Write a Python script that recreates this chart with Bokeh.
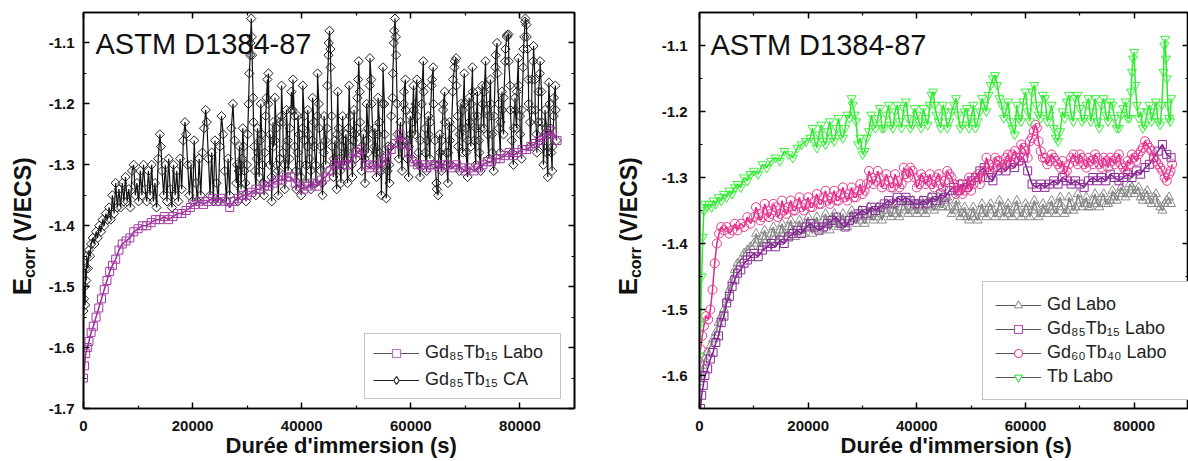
import math
from bokeh.plotting import figure
from bokeh.models import (Range1d, LinearAxis, FixedTicker, PrintfTickFormatter, CustomJSTickFormatter,
                          Label, Legend, LegendItem)
from bokeh.layouts import row
from bokeh.embed import file_html
from bokeh.resources import INLINE
from bokeh.core.properties import value

FONT = "Liberation Sans"

# ---------------- data (time in s, Ecorr in V/ECS) ----------------
x_ticks = [0, 20000, 40000, 60000, 80000]
x_minor = [10000, 30000, 50000, 70000, 90000]
y_ticks_left = [-1.7, -1.6, -1.5, -1.4, -1.3, -1.2, -1.1]
y_minor_left = [-1.65, -1.55, -1.45, -1.35, -1.25, -1.15, -1.05]
y_ticks_right = [-1.6, -1.5, -1.4, -1.3, -1.2, -1.1]
y_minor_right = [-1.65, -1.55, -1.45, -1.35, -1.25, -1.15, -1.05]

# left panel: Gd85Tb15 Labo
left_labo = [(0,-1.65),(200,-1.63),(400,-1.61),(700,-1.60),(1000,-1.59),(1400,-1.575),(1800,-1.565),(2300,-1.55),
    (2800,-1.535),(3300,-1.52),(3800,-1.505),(4300,-1.49),(4800,-1.475),(5300,-1.465),(5900,-1.455),(6500,-1.44),
    (7100,-1.43),(7800,-1.425),(8500,-1.42),(9200,-1.41),(10000,-1.405),(10800,-1.40),(11600,-1.40),(12400,-1.395),
    (13200,-1.39),(14000,-1.39),(14800,-1.385),(15600,-1.39),(16400,-1.385),(17200,-1.38),(18000,-1.38),(18800,-1.375),
    (19600,-1.37),(20400,-1.365),(21200,-1.36),(22000,-1.365),(22800,-1.36),(23600,-1.355),(24400,-1.36),(25200,-1.355),
    (26000,-1.36),(26800,-1.37),(27600,-1.36),(28400,-1.355),(29200,-1.35),(30000,-1.35),(30800,-1.345),(31600,-1.34),
    (32400,-1.34),(33200,-1.335),(34000,-1.335),(34800,-1.33),(35600,-1.325),(36400,-1.325),(37200,-1.32),(38000,-1.32),
    (38800,-1.33),(39600,-1.335),(40400,-1.34),(41200,-1.335),(42000,-1.33),(42800,-1.335),(43600,-1.325),(44400,-1.32),
    (45200,-1.31),(46000,-1.30),(46800,-1.295),(47600,-1.30),(48400,-1.30),(49200,-1.29),(50000,-1.28),(50800,-1.275),
    (51600,-1.30),(52400,-1.305),(53200,-1.30),(54000,-1.305),(54800,-1.295),(55600,-1.29),(56400,-1.275),(57200,-1.265),
    (58000,-1.25),(58800,-1.265),(59600,-1.28),(60400,-1.295),(61200,-1.30),(62000,-1.30),(62800,-1.305),(63600,-1.30),
    (64400,-1.30),(65200,-1.305),(66000,-1.30),(66800,-1.30),(67600,-1.305),(68400,-1.30),(69200,-1.305),(70000,-1.31),
    (70800,-1.305),(71600,-1.31),(72400,-1.305),(73200,-1.30),(74000,-1.295),(74800,-1.295),(75600,-1.29),(76400,-1.29),
    (77200,-1.285),(78000,-1.28),(78800,-1.285),(79600,-1.28),(80400,-1.275),(81200,-1.275),(82000,-1.27),(82800,-1.265),
    (83600,-1.26),(84400,-1.255),(85200,-1.25),(86000,-1.245),(86800,-1.26)]

# left panel: Gd85Tb15 CA (main readings)
left_ca_a = [(0,-1.54),(100,-1.52),(200,-1.50),(300,-1.53),(400,-1.47),(500,-1.49),(600,-1.45),(800,-1.47),(1000,-1.44),
    (1200,-1.45),(1400,-1.43),(1700,-1.42),(2000,-1.43),(2300,-1.41),(2600,-1.42),(2900,-1.40),(3200,-1.41),(3500,-1.39),
    (3800,-1.40),(4100,-1.38),(4400,-1.39),(4700,-1.37),(5000,-1.39),(5300,-1.35),(5600,-1.38),(5900,-1.33),(6200,-1.37),
    (6500,-1.34),(6800,-1.37),(7100,-1.33),(7400,-1.36),(7700,-1.32),(8000,-1.36),(8300,-1.34),(8600,-1.37),(8900,-1.31),
    (9200,-1.30),(9500,-1.35),(9800,-1.33),(10100,-1.36),(10400,-1.31),(10700,-1.35),(11000,-1.30),(11300,-1.34),
    (11600,-1.36),(11900,-1.31),(12200,-1.35),(12500,-1.30),(12800,-1.36),(13100,-1.33),(13400,-1.37),(13700,-1.29),
    (14000,-1.25),(14200,-1.27),(14400,-1.31),(14700,-1.35),(15000,-1.30),(15300,-1.36),(15600,-1.29),(15900,-1.34),
    (16200,-1.37),(16500,-1.30),(16800,-1.35),(17100,-1.31),(17400,-1.36),(17700,-1.29),(18000,-1.34),(18300,-1.26),
    (18600,-1.23),(18800,-1.25),(19100,-1.30),(19400,-1.35),(19700,-1.30),(20000,-1.36),(20300,-1.26),(20600,-1.33),
    (20900,-1.36),(21200,-1.29),(21500,-1.35),(21800,-1.28),(22100,-1.24),(22400,-1.21),(22600,-1.23),(22900,-1.29),
    (23200,-1.35),(23500,-1.28),(23800,-1.36),(24100,-1.26),(24400,-1.33),(24700,-1.36),(25000,-1.27),(25300,-1.22),
    (25600,-1.25),(25900,-1.31),(26200,-1.36),(26500,-1.29),(26800,-1.35),(27100,-1.24),(27400,-1.20),(27700,-1.26),
    (28000,-1.33),(28300,-1.36),(28600,-1.27),(28900,-1.34),(29200,-1.24),(29500,-1.31),(29800,-1.36),(30100,-1.25),
    (30400,-1.15),(30600,-1.10),(30750,-1.06),(30900,-1.12),(31100,-1.19),(31300,-1.27),(31600,-1.35),(31900,-1.24),
    (32200,-1.32),(32500,-1.20),(32800,-1.30),(33100,-1.35),(33400,-1.22),(33700,-1.16),(33900,-1.15),(34200,-1.25),
    (34500,-1.36),(34800,-1.27),(35100,-1.19),(35400,-1.30),(35700,-1.35),(36000,-1.23),(36300,-1.17),(36600,-1.28),
    (36900,-1.34),(37200,-1.21),(37500,-1.31),(37800,-1.24),(38100,-1.18),(38400,-1.16),(38700,-1.27),(39000,-1.34),
    (39300,-1.22),(39600,-1.30),(39900,-1.35),(40200,-1.17),(40500,-1.26),(40800,-1.33),(41100,-1.21),(41400,-1.29),
    (41700,-1.34),(42000,-1.19),(42300,-1.27),(42600,-1.33),(42900,-1.15),(43200,-1.24),(43500,-1.31),(43800,-1.35),
    (44100,-1.22),(44400,-1.30),(44700,-1.17),(44900,-1.12),(45100,-1.08),(45300,-1.14),(45500,-1.22),(45800,-1.32),
    (46100,-1.26),(46400,-1.34),(46600,-1.18),(46900,-1.29),(47200,-1.33),(47500,-1.22),(47800,-1.30),(48100,-1.25),
    (48400,-1.33),(48700,-1.17),(49000,-1.27),(49300,-1.32),(49600,-1.21),(49900,-1.29),(50200,-1.19),(50450,-1.13),
    (50700,-1.23),(51000,-1.31),(51300,-1.25),(51600,-1.33),(51900,-1.20),(52200,-1.28),(52500,-1.125),(52800,-1.20),
    (53100,-1.30),(53400,-1.24),(53700,-1.32),(54000,-1.19),(54300,-1.28),(54600,-1.35),(54900,-1.14),(55200,-1.25),
    (55500,-1.355),(55800,-1.27),(56100,-1.33),(56400,-1.22),(56700,-1.15),(56900,-1.10),(57100,-1.06),(57300,-1.12),
    (57500,-1.20),(57800,-1.29),(58100,-1.23),(58400,-1.31),(58700,-1.20),(59000,-1.16),(59300,-1.26),(59600,-1.32),
    (59900,-1.22),(60200,-1.29),(60500,-1.17),(60800,-1.25),(61100,-1.16),(61400,-1.28),(61700,-1.32),(62000,-1.20),
    (62300,-1.13),(62600,-1.24),(62900,-1.31),(63200,-1.22),(63500,-1.29),(63800,-1.17),(64100,-1.14),(64400,-1.26),
    (64700,-1.33),(65000,-1.35),(65300,-1.25),(65600,-1.31),(65900,-1.21),(66200,-1.18),(66500,-1.28),(66800,-1.33),
    (67100,-1.23),(67400,-1.30),(67700,-1.18),(68000,-1.14),(68300,-1.125),(68600,-1.22),(68900,-1.31),(69200,-1.20),
    (69500,-1.28),(69800,-1.15),(70100,-1.24),(70400,-1.32),(70700,-1.19),(71000,-1.27),(71300,-1.14),(71600,-1.22),
    (71900,-1.30),(72200,-1.18),(72500,-1.26),(72800,-1.31),(73100,-1.17),(73400,-1.24),(73700,-1.13),(74000,-1.21),
    (74300,-1.29),(74600,-1.16),(74900,-1.25),(75200,-1.31),(75500,-1.14),(75800,-1.10),(76100,-1.20),(76400,-1.28),
    (76700,-1.18),(77000,-1.25),(77300,-1.13),(77600,-1.09),(77900,-1.086),(78200,-1.17),(78500,-1.26),(78800,-1.30),
    (79100,-1.19),(79400,-1.24),(79700,-1.125),(80000,-1.22),(80300,-1.29),(80600,-1.14),(80800,-1.09),(81000,-1.06),
    (81200,-1.07),(81400,-1.11),(81600,-1.20),(81900,-1.27),(82200,-1.16),(82500,-1.105),(82800,-1.21),(83100,-1.28),
    (83400,-1.18),(83700,-1.13),(84000,-1.23),(84300,-1.30),(84600,-1.21),(84900,-1.28),(85100,-1.32),(85300,-1.165),
    (85600,-1.24),(85900,-1.31),(86200,-1.22),(86500,-1.17),(86700,-1.26)]

# left panel: Gd85Tb15 CA (in-between readings of the dense oscillating part)
left_ca_b = [(28150,-1.30),(28450,-1.31),(28750,-1.30),(29050,-1.29),(29350,-1.27),(29650,-1.33),(29950,-1.30),
    (30250,-1.20),(30550,-1.12),(30850,-1.09),(31150,-1.23),(31450,-1.31),(31750,-1.29),(32050,-1.28),(32350,-1.26),
    (32650,-1.25),(32950,-1.33),(33250,-1.28),(33550,-1.19),(33850,-1.20),(34150,-1.30),(34450,-1.32),(34750,-1.23),
    (35050,-1.26),(35350,-1.24),(35650,-1.31),(35950,-1.29),(36250,-1.22),(36550,-1.23),(36850,-1.30),(37150,-1.27),
    (37450,-1.26),(37750,-1.29),(38050,-1.21),(38350,-1.21),(38650,-1.22),(38950,-1.31),(39250,-1.28),(39550,-1.25),
    (39850,-1.32),(40150,-1.24),(40450,-1.22),(40750,-1.30),(41050,-1.27),(41350,-1.25),(41650,-1.31),(41950,-1.26),
    (42250,-1.23),(42550,-1.30),(42850,-1.22),(43150,-1.20),(43450,-1.27),(43750,-1.33),(44050,-1.28),(44350,-1.26),
    (44650,-1.24),(44950,-1.10),(45250,-1.11),(45550,-1.27),(45850,-1.29),(46150,-1.30),(46450,-1.25),(46750,-1.24),
    (47050,-1.31),(47350,-1.27),(47650,-1.26),(47950,-1.28),(48250,-1.29),(48550,-1.24),(48850,-1.22),(49150,-1.30),
    (49450,-1.26),(49750,-1.25),(50050,-1.24),(50350,-1.16),(50650,-1.18),(50950,-1.27),(51250,-1.28),(51550,-1.29),
    (51850,-1.26),(52150,-1.24),(52450,-1.17),(52750,-1.16),(53050,-1.25),(53350,-1.27),(53650,-1.28),(53950,-1.25),
    (54250,-1.23),(54550,-1.31),(54850,-1.20),(55150,-1.20),(55450,-1.30),(55750,-1.31),(56050,-1.30),(56350,-1.27),
    (56650,-1.19),(56950,-1.08),(57250,-1.09),(57550,-1.25),(57850,-1.26),(58150,-1.27),(58450,-1.26),(58750,-1.18),
    (59050,-1.21),(59350,-1.29),(59650,-1.27),(59950,-1.25),(60250,-1.23),(60550,-1.21),(60850,-1.20),(61150,-1.22),
    (61450,-1.30),(61750,-1.26),(62050,-1.17),(62350,-1.18),(62650,-1.28),(62950,-1.26),(63250,-1.25),(63550,-1.23),
    (63850,-1.16),(64150,-1.20),(64450,-1.30),(64750,-1.34),(65050,-1.30),(65350,-1.28),(65650,-1.26),(65950,-1.20),
    (66250,-1.23),(66550,-1.30),(66850,-1.28),(67150,-1.26),(67450,-1.24),(67750,-1.16),(68050,-1.13),(68350,-1.17),
    (68650,-1.27),(68950,-1.25),(69250,-1.24),(69550,-1.21),(69850,-1.20),(70150,-1.28),(70450,-1.26),(70750,-1.23),
    (71050,-1.20),(71350,-1.18),(71650,-1.26),(71950,-1.24),(72250,-1.22),(72550,-1.28),(72850,-1.24),(73150,-1.20),
    (73450,-1.18),(73750,-1.17),(74050,-1.25),(74350,-1.22),(74650,-1.20),(74950,-1.28),(75250,-1.22),(75550,-1.12),
    (75850,-1.15),(76150,-1.24),(76450,-1.23),(76750,-1.21),(77050,-1.19),(77350,-1.11),(77650,-1.087),(77950,-1.13),
    (78250,-1.21),(78550,-1.28),(78850,-1.24),(79150,-1.21),(79450,-1.18),(79750,-1.17),(80050,-1.25),(80350,-1.21),
    (80650,-1.11),(80950,-1.065),(81250,-1.09),(81550,-1.16),(81850,-1.23),(82150,-1.21),(82450,-1.13),(82750,-1.16),
    (83050,-1.25),(83350,-1.23),(83650,-1.15),(83950,-1.18),(84250,-1.27),(84550,-1.25),(84850,-1.24),(85150,-1.25),
    (85450,-1.20),(85750,-1.28),(85950,-1.27),(86250,-1.19),(86550,-1.21)]

# right panel: Gd Labo
right_gd_a = [(0,-1.61),(300,-1.60),(600,-1.585),(1000,-1.575),(1500,-1.565),(2000,-1.555),(2500,-1.545),(3000,-1.535),
    (3500,-1.52),(4000,-1.51),(4500,-1.50),(5000,-1.485),(5500,-1.47),(6000,-1.455),(6500,-1.44),(7000,-1.43),
    (7600,-1.425),(8200,-1.415),(8800,-1.41),(9400,-1.405),(10000,-1.40),(10800,-1.395),(11600,-1.39),(12400,-1.395),
    (13200,-1.385),(14000,-1.39),(14800,-1.38),(15600,-1.385),(16400,-1.375),(17200,-1.38),(18000,-1.375),(18800,-1.38),
    (19600,-1.37),(20400,-1.375),(21200,-1.37),(22000,-1.375),(22800,-1.365),(23600,-1.37),(24400,-1.365),(25200,-1.37),
    (26000,-1.365),(26800,-1.37),(27600,-1.36),(28400,-1.365),(29200,-1.36),(30000,-1.365),(30800,-1.36),(31600,-1.355),
    (32400,-1.36),(33200,-1.355),(34000,-1.35),(34800,-1.355),(35600,-1.35),(36400,-1.355),(37200,-1.345),(38000,-1.35),
    (38800,-1.345),(39600,-1.35),(40400,-1.345),(41200,-1.35),(42000,-1.34),(42800,-1.345),(43600,-1.34),(44400,-1.345),
    (45200,-1.335),(46000,-1.345),(46800,-1.35),(47600,-1.345),(48400,-1.355),(49200,-1.36),(50000,-1.355),(50800,-1.36),
    (51600,-1.35),(52400,-1.355),(53200,-1.345),(54000,-1.35),(54800,-1.355),(55600,-1.345),(56400,-1.35),(57200,-1.355),
    (58000,-1.345),(58800,-1.35),(59600,-1.355),(60400,-1.345),(61200,-1.35),(62000,-1.345),(62800,-1.355),(63600,-1.35),
    (64400,-1.345),(65200,-1.35),(66000,-1.34),(66800,-1.345),(67600,-1.35),(68400,-1.34),(69200,-1.345),(70000,-1.335),
    (70800,-1.34),(71600,-1.345),(72400,-1.335),(73200,-1.34),(74000,-1.33),(74800,-1.34),(75600,-1.335),(76400,-1.33),
    (77200,-1.325),(78000,-1.32),(78800,-1.325),(79600,-1.315),(80400,-1.32),(81200,-1.33),(82000,-1.325),(82800,-1.335),
    (83600,-1.33),(84400,-1.34),(85200,-1.35),(86000,-1.335),(86800,-1.34)]
right_gd_b = [(10400,-1.385),(11200,-1.405),(12000,-1.38),(12800,-1.40),(13600,-1.375),(14400,-1.395),(15200,-1.37),
    (16000,-1.39),(16800,-1.365),(17600,-1.39),(18400,-1.365),(19200,-1.385),(20000,-1.36),(20800,-1.385),(21600,-1.36),
    (22400,-1.38),(23200,-1.355),(24000,-1.38),(24800,-1.355),(25600,-1.375),(26400,-1.355),(27200,-1.375),(28000,-1.35),
    (28800,-1.37),(29600,-1.35),(30400,-1.37),(31200,-1.345),(32000,-1.365),(32800,-1.345),(33600,-1.365),(34400,-1.34),
    (35200,-1.36),(36000,-1.34),(36800,-1.36),(37600,-1.335),(38400,-1.355),(39200,-1.335),(40000,-1.355),(40800,-1.335),
    (41600,-1.355),(42400,-1.33),(43200,-1.35),(44000,-1.33),(44800,-1.345),(45600,-1.33),(46400,-1.355),(47200,-1.335),
    (48000,-1.36),(48800,-1.345),(49600,-1.365),(50400,-1.345),(51200,-1.365),(52000,-1.34),(52800,-1.36),(53600,-1.34),
    (54400,-1.36),(55200,-1.335),(56000,-1.36),(56800,-1.34),(57600,-1.36),(58400,-1.335),(59200,-1.36),(60000,-1.34),
    (60800,-1.36),(61600,-1.335),(62400,-1.36),(63200,-1.34),(64000,-1.355),(64800,-1.335),(65600,-1.355),(66400,-1.33),
    (67200,-1.355),(68000,-1.33),(68800,-1.35),(69600,-1.325),(70400,-1.345),(71200,-1.33),(72000,-1.345),(72800,-1.325),
    (73600,-1.345),(74400,-1.325),(75200,-1.34),(76000,-1.32),(76800,-1.335),(77600,-1.315),(78400,-1.33),(79200,-1.31),
    (80000,-1.325),(80800,-1.315),(81600,-1.335),(82400,-1.32),(83200,-1.34),(84000,-1.325),(84800,-1.345),(85600,-1.34),
    (86400,-1.33)]

# right panel: Gd85Tb15 Labo
right_gd85 = [(0,-1.67),(200,-1.65),(400,-1.63),(700,-1.615),(1000,-1.60),(1500,-1.59),(2000,-1.575),(2500,-1.565),
    (3000,-1.55),(3500,-1.54),(4000,-1.52),(4500,-1.51),(5000,-1.49),(5500,-1.48),(6000,-1.465),(6500,-1.455),
    (7000,-1.445),(7600,-1.44),(8200,-1.43),(8800,-1.425),(9400,-1.42),(10000,-1.415),(10800,-1.42),(11600,-1.41),
    (12400,-1.405),(13200,-1.40),(14000,-1.405),(14800,-1.395),(15600,-1.40),(16400,-1.39),(17200,-1.385),(18000,-1.38),
    (18800,-1.385),(19600,-1.375),(20400,-1.37),(21200,-1.375),(22000,-1.38),(22800,-1.375),(23600,-1.37),(24400,-1.365),
    (25200,-1.36),(26000,-1.37),(26800,-1.375),(27600,-1.365),(28400,-1.36),(29200,-1.355),(30000,-1.35),(30800,-1.355),
    (31600,-1.345),(32400,-1.35),(33200,-1.345),(34000,-1.34),(34800,-1.335),(35600,-1.34),(36400,-1.33),(37200,-1.335),
    (38000,-1.33),(38800,-1.335),(39600,-1.34),(40400,-1.34),(41200,-1.335),(42000,-1.34),(42800,-1.33),(43600,-1.335),
    (44400,-1.325),(45200,-1.33),(46000,-1.32),(46800,-1.315),(47600,-1.32),(48400,-1.31),(49200,-1.315),(50000,-1.305),
    (50800,-1.30),(51600,-1.29),(52400,-1.285),(53200,-1.30),(54000,-1.305),(54800,-1.29),(55600,-1.285),(56400,-1.29),
    (57200,-1.28),(58000,-1.285),(58800,-1.275),(59600,-1.27),(60400,-1.29),(61200,-1.31),(62000,-1.315),(62800,-1.31),
    (63600,-1.315),(64400,-1.31),(65200,-1.305),(66000,-1.31),(66800,-1.30),(67600,-1.305),(68400,-1.31),(69200,-1.305),
    (70000,-1.31),(70800,-1.315),(71600,-1.305),(72400,-1.30),(73200,-1.305),(74000,-1.30),(74800,-1.305),(75600,-1.295),
    (76400,-1.30),(77200,-1.305),(78000,-1.30),(78800,-1.295),(79600,-1.30),(80400,-1.29),(81200,-1.295),(82000,-1.285),
    (82800,-1.28),(83600,-1.27),(84400,-1.26),(85200,-1.25),(86000,-1.265),(86800,-1.27)]

# right panel: Gd60Tb40 Labo
right_gd60_a = [(0,-1.58),(200,-1.56),(500,-1.54),(800,-1.525),(1200,-1.51),(1600,-1.515),(2000,-1.50),(2400,-1.47),
    (2800,-1.43),(3200,-1.40),(3600,-1.385),(4000,-1.375),(4500,-1.38),(5000,-1.375),(5500,-1.385),(6000,-1.38),
    (6500,-1.37),(7000,-1.38),(7600,-1.37),(8200,-1.375),(8800,-1.36),(9400,-1.37),(10000,-1.36),(10800,-1.355),
    (11600,-1.36),(12400,-1.35),(13200,-1.355),(14000,-1.345),(14800,-1.355),(15600,-1.35),(16400,-1.345),(17200,-1.35),
    (18000,-1.34),(18800,-1.345),(19600,-1.34),(20400,-1.345),(21200,-1.335),(22000,-1.34),(22800,-1.33),(23600,-1.335),
    (24400,-1.33),(25200,-1.335),(26000,-1.325),(26800,-1.33),(27600,-1.325),(28400,-1.33),(29200,-1.32),(30000,-1.325),
    (30800,-1.31),(31600,-1.30),(32400,-1.305),(33200,-1.30),(34000,-1.31),(34800,-1.305),(35600,-1.315),(36400,-1.305),
    (37200,-1.31),(38000,-1.295),(38800,-1.285),(39600,-1.30),(40400,-1.31),(41200,-1.30),(42000,-1.305),(42800,-1.31),
    (43600,-1.30),(44400,-1.31),(45200,-1.305),(46000,-1.295),(46800,-1.31),(47600,-1.32),(48400,-1.325),(49200,-1.31),
    (50000,-1.32),(50800,-1.30),(51600,-1.31),(52400,-1.29),(53200,-1.28),(54000,-1.285),(54800,-1.275),(55600,-1.285),
    (56400,-1.27),(57200,-1.28),(58000,-1.26),(58800,-1.275),(59600,-1.255),(60400,-1.27),(61200,-1.24),(61800,-1.22),
    (62400,-1.245),(63200,-1.27),(64000,-1.28),(64800,-1.265),(65600,-1.275),(66400,-1.285),(67200,-1.295),(68000,-1.28),
    (68800,-1.265),(69600,-1.28),(70400,-1.27),(71200,-1.285),(72000,-1.275),(72800,-1.265),(73600,-1.28),(74400,-1.27),
    (75200,-1.285),(76000,-1.275),(76800,-1.27),(77600,-1.28),(78400,-1.29),(79200,-1.28),(80000,-1.27),(80800,-1.265),
    (81600,-1.255),(82400,-1.25),(83200,-1.26),(84000,-1.275),(84800,-1.285),(85600,-1.30),(86400,-1.295),(87000,-1.28)]
right_gd60_b = [(10400,-1.345),(11200,-1.365),(12000,-1.34),(12800,-1.36),(13600,-1.34),(14400,-1.36),(15200,-1.335),
    (16000,-1.355),(16800,-1.335),(17600,-1.35),(18400,-1.33),(19200,-1.35),(20000,-1.33),(20800,-1.345),(21600,-1.325),
    (22400,-1.34),(23200,-1.32),(24000,-1.34),(24800,-1.32),(25600,-1.335),(26400,-1.315),(27200,-1.335),(28000,-1.315),
    (28800,-1.33),(29600,-1.31),(30400,-1.32),(31200,-1.29),(32000,-1.31),(32800,-1.29),(33600,-1.315),(34400,-1.295),
    (35200,-1.315),(36000,-1.295),(36800,-1.315),(37600,-1.285),(38400,-1.30),(39200,-1.29),(40000,-1.315),(40800,-1.295),
    (41600,-1.31),(42400,-1.295),(43200,-1.315),(44000,-1.295),(44800,-1.315),(45600,-1.29),(46400,-1.30),(47200,-1.325),
    (48000,-1.31),(48800,-1.32),(49600,-1.30),(50400,-1.31),(51200,-1.295),(52000,-1.30),(52800,-1.27),(53600,-1.29),
    (54400,-1.27),(55200,-1.275),(56000,-1.28),(56800,-1.265),(57600,-1.265),(58400,-1.27),(59200,-1.25),(60000,-1.26),
    (60800,-1.245),(61500,-1.23),(62100,-1.225),(62800,-1.26),(63600,-1.27),(64400,-1.275),(65200,-1.27),(66000,-1.28),
    (66800,-1.275),(67600,-1.29),(68400,-1.27),(69200,-1.275),(70000,-1.265),(70800,-1.28),(71600,-1.27),(72400,-1.28),
    (73200,-1.27),(74000,-1.285),(74800,-1.275),(75600,-1.27),(76400,-1.28),(77200,-1.265),(78000,-1.285),(78800,-1.275),
    (79600,-1.265),(80400,-1.275),(81200,-1.26),(82000,-1.245),(82800,-1.255),(83600,-1.27),(84400,-1.28),(85200,-1.29),
    (86000,-1.305),(86700,-1.29)]

# right panel: Tb Labo
right_tb_a = [(0,-1.57),(200,-1.52),(400,-1.45),(600,-1.39),(800,-1.35),(1000,-1.34),(1400,-1.345),(1800,-1.34),
    (2200,-1.345),(2600,-1.335),(3000,-1.34),(3500,-1.33),(4000,-1.335),(4500,-1.325),(5000,-1.33),(5500,-1.32),
    (6000,-1.325),(6500,-1.315),(7000,-1.31),(7600,-1.315),(8200,-1.30),(8800,-1.305),(9400,-1.295),(10000,-1.29),
    (10800,-1.295),(11600,-1.28),(12400,-1.285),(13200,-1.275),(14000,-1.27),(14800,-1.275),(15600,-1.26),(16400,-1.265),
    (17200,-1.27),(18000,-1.255),(18800,-1.25),(19600,-1.245),(20400,-1.24),(21200,-1.245),(22000,-1.235),(22800,-1.245),
    (23600,-1.23),(24400,-1.24),(25200,-1.225),(26000,-1.235),(26800,-1.225),(27600,-1.21),(28200,-1.19),(28800,-1.215),
    (29600,-1.24),(30400,-1.26),(31200,-1.23),(32000,-1.22),(32800,-1.21),(33600,-1.225),(34400,-1.205),(35200,-1.22),
    (36000,-1.20),(36800,-1.215),(37600,-1.195),(38400,-1.21),(39200,-1.22),(40000,-1.205),(40800,-1.225),(41600,-1.21),
    (42400,-1.19),(43000,-1.17),(43600,-1.205),(44400,-1.225),(45200,-1.20),(46000,-1.215),(46800,-1.19),(47600,-1.205),
    (48400,-1.22),(49200,-1.195),(50000,-1.21),(50800,-1.225),(51600,-1.20),(52400,-1.19),(53200,-1.175),(54000,-1.15),
    (54800,-1.16),(55600,-1.19),(56400,-1.20),(57200,-1.215),(58000,-1.235),(58800,-1.21),(59600,-1.185),(60400,-1.20),
    (61200,-1.17),(62000,-1.19),(62800,-1.21),(63600,-1.18),(64400,-1.205),(65200,-1.225),(66000,-1.245),(66800,-1.20),
    (67600,-1.185),(68400,-1.205),(69200,-1.18),(70000,-1.195),(70800,-1.21),(71600,-1.18),(72400,-1.20),(73200,-1.215),
    (74000,-1.19),(74800,-1.205),(75600,-1.185),(76400,-1.21),(77200,-1.225),(78000,-1.195),(78800,-1.21),(79400,-1.17),
    (79800,-1.12),(80200,-1.16),(80800,-1.21),(81600,-1.225),(82400,-1.20),(83200,-1.215),(84000,-1.185),(84800,-1.22),
    (85400,-1.14),(85700,-1.09),(86000,-1.15),(86400,-1.21),(86800,-1.18)]
right_tb_b = [(20800,-1.225),(21600,-1.255),(22400,-1.22),(23200,-1.25),(24000,-1.215),(24800,-1.245),(25600,-1.21),
    (26400,-1.24),(27200,-1.205),(28000,-1.18),(28600,-1.205),(29200,-1.25),(30000,-1.265),(30800,-1.24),(31600,-1.205),
    (32400,-1.225),(33200,-1.195),(34000,-1.225),(34800,-1.19),(35600,-1.225),(36400,-1.19),(37200,-1.225),(38000,-1.185),
    (38800,-1.225),(39600,-1.195),(40400,-1.215),(41200,-1.195),(42000,-1.22),(42700,-1.175),(43300,-1.19),(44000,-1.215),
    (44800,-1.19),(45600,-1.225),(46400,-1.20),(47200,-1.18),(48000,-1.225),(48800,-1.20),(49600,-1.225),(50400,-1.19),
    (51200,-1.215),(52000,-1.18),(52800,-1.20),(53600,-1.16),(54400,-1.145),(55200,-1.18),(56000,-1.21),(56800,-1.185),
    (57600,-1.225),(58400,-1.19),(59200,-1.215),(60000,-1.17),(60800,-1.215),(61600,-1.16),(62400,-1.205),(63200,-1.175),
    (64000,-1.215),(64800,-1.19),(65600,-1.24),(66400,-1.23),(67200,-1.21),(68000,-1.175),(68800,-1.215),(69600,-1.175),
    (70400,-1.215),(71200,-1.19),(72000,-1.215),(72800,-1.18),(73600,-1.225),(74400,-1.18),(75200,-1.215),(76000,-1.19),
    (76800,-1.225),(77600,-1.205),(78400,-1.185),(79100,-1.21),(79600,-1.14),(80000,-1.11),(80500,-1.19),(81200,-1.20),
    (82000,-1.22),(82800,-1.19),(83600,-1.20),(84400,-1.215),(85100,-1.19),(85550,-1.10),(85850,-1.12),(86200,-1.19),
    (86600,-1.215)]

labels_left = ["Gd\u2088\u2085Tb\u2081\u2085 Labo", "Gd\u2088\u2085Tb\u2081\u2085 CA"]
labels_right = ["Gd Labo", "Gd\u2088\u2085Tb\u2081\u2085 Labo", "Gd\u2086\u2080Tb\u2084\u2080 Labo", "Tb Labo"]
x_title = "Durée d'immersion (s)"
y_title_parts = ["E", "corr", "(V/ECS)"]
panel_title = "ASTM D1384-87"

H = 461
TOP, BOTTOM = 12, 53
NAN = float("nan")
HIDE = CustomJSTickFormatter(code="return ''")


def merged(*parts):
    pts = []
    for part in parts:
        pts.extend(part)
    return sorted(pts)


def xs(pts):
    return [p[0] for p in pts]


def ys(pts):
    return [p[1] for p in pts]


def style_axis(ax, ticks, minor, fmt, show, standoff=8):
    ax.ticker = FixedTicker(ticks=ticks, minor_ticks=minor)
    ax.axis_line_color = "black"
    ax.axis_line_width = 1.6
    ax.major_tick_in = 6
    ax.major_tick_out = 0
    ax.minor_tick_in = 3
    ax.minor_tick_out = 0
    ax.major_tick_line_width = 1.5
    ax.minor_tick_line_width = 1.2
    if show:
        ax.formatter = PrintfTickFormatter(format=fmt)
        ax.major_label_text_font = FONT
        ax.major_label_text_font_style = "bold"
        ax.major_label_text_font_size = "15px"
        ax.major_label_text_color = "#111111"
        ax.major_label_standoff = standoff
    else:
        ax.formatter = HIDE
        ax.major_label_standoff = 0


def make_fig(width, ylo, yticks, yminor, bl, br, ystandoff):
    p = figure(width=width, height=H, x_range=Range1d(0, 90000), y_range=Range1d(ylo, -1.05),
               output_backend="svg", toolbar_location=None,
               min_border_left=bl, min_border_right=br, min_border_top=TOP, min_border_bottom=BOTTOM)
    p.grid.visible = False
    p.outline_line_color = "black"
    p.outline_line_width = 1.6
    style_axis(p.xaxis[0], x_ticks, x_minor, "%d", True, 12)
    style_axis(p.yaxis[0], yticks, yminor, "%.1f", True, ystandoff)
    xa = p.xaxis[0]
    xa.axis_label = "\u00a0\u00a0\u00a0\u00a0" + x_title
    xa.axis_label_text_font = FONT
    xa.axis_label_text_font_style = "bold"
    xa.axis_label_text_font_size = "22px"
    xa.axis_label_text_color = "#111111"
    xa.axis_label_standoff = -1
    top = LinearAxis()
    style_axis(top, x_ticks, x_minor, "%d", False)
    p.add_layout(top, "above")
    right = LinearAxis()
    style_axis(right, yticks, yminor, "%.1f", False)
    p.add_layout(right, "right")
    return p


def label_fig(width, base):
    # strip holding the rotated y title; y units = pixels from the bottom of the page
    f = figure(width=width, height=H, x_range=Range1d(0, width), y_range=Range1d(BOTTOM, H - TOP),
               output_backend="svg", toolbar_location=None, x_axis_location=None, y_axis_location=None,
               min_border_left=0, min_border_right=0, min_border_top=TOP, min_border_bottom=BOTTOM)
    f.outline_line_color = None
    f.grid.visible = False
    common = dict(angle=math.pi / 2, text_font=value(FONT), text_font_style="bold",
                  text_baseline="middle", text_align="center", text_color="#111111")
    f.text(x=[base - 9], y=[175], text=[y_title_parts[0]], text_font_size="26px", **common)
    f.text(x=[base - 1.5], y=[199], text=[y_title_parts[1]], text_font_size="16px", **common)
    f.text(x=[base - 8], y=[262], text=[y_title_parts[2]], text_font_size="23px", **common)
    return f


def add_title(p, x, y):
    p.add_layout(Label(x=x, y=y, x_units="screen", y_units="screen", text=panel_title,
                       text_font=FONT, text_font_size="29px", text_baseline="alphabetic",
                       text_color="#111111"))


def series(p, pts, color, mcolor, marker, size, angle=0.0, lw=1.0):
    p.line(xs(pts), ys(pts), line_color=color, line_width=lw)
    p.scatter(xs(pts), ys(pts), marker=marker, size=size, angle=angle,
              line_color=mcolor, fill_color=None, line_width=1)


def legend_item(p, label, mcolor, marker, size, lcolor="#555555"):
    r1 = p.line([NAN], [NAN], line_color=lcolor, line_width=1.2)
    r2 = p.scatter([NAN], [NAN], marker=marker, size=size, line_color=mcolor,
                   fill_color="white", line_width=1.2)
    return LegendItem(label=label, renderers=[r1, r2])


def style_legend(leg, spacing, padding, lw):
    leg.label_text_font = FONT
    leg.label_text_font_size = "18px"
    leg.label_text_color = "#222222"
    leg.glyph_width = 46
    leg.glyph_height = 20
    leg.label_height = 20
    leg.label_width = lw
    leg.label_standoff = 6
    leg.spacing = spacing
    leg.padding = padding
    leg.margin = 0
    leg.border_line_color = "#8c8c8c"
    leg.border_line_width = 1.5
    leg.background_fill_color = "white"
    leg.background_fill_alpha = 1.0


# ---------------- left panel ----------------
lab1 = label_fig(45, 30)
p1 = make_fig(569, -1.7, y_ticks_left, y_minor_left, 38, 40, 9)
series(p1, merged(left_ca_a, left_ca_b), "#111111", "#222222", "square", 6.5, math.pi / 4, 1.2)
series(p1, left_labo, "#9b2a9b", "#a33aa3", "square", 8, 0.0, 1.5)
items1 = [legend_item(p1, labels_left[0], "#c070c8", "square", 8),
          legend_item(p1, labels_left[1], "#222222", "diamond", 13, "#222222")]
leg1 = Legend(items=items1, location=(281, 9))
style_legend(leg1, 6, 8, 127)
p1.add_layout(leg1)
add_title(p1, 12, 365)

# ---------------- right panel ----------------
lab2 = label_fig(41, 22)
p2 = make_fig(533, -1.65, y_ticks_right, y_minor_right, 44, 0, 12)
series(p2, merged(right_gd_a, right_gd_b), "#858585", "#8a8a8a", "triangle", 9, 0.0, 1.5)
series(p2, right_gd85, "#7e1f8c", "#8a2b98", "square", 8, 0.0, 1.5)
series(p2, merged(right_gd60_a, right_gd60_b), "#e0288a", "#e63a92", "circle", 9, 0.0, 1.5)
series(p2, merged(right_tb_a, right_tb_b), "#2ee82e", "#3cf03c", "inverted_triangle", 9, 0.0, 1.5)
items2 = [legend_item(p2, labels_right[0], "#a0a0a0", "triangle", 9),
          legend_item(p2, labels_right[1], "#b050b8", "square", 8),
          legend_item(p2, labels_right[2], "#e0509a", "circle", 9),
          legend_item(p2, labels_right[3], "#50e050", "inverted_triangle", 9)]
leg2 = Legend(items=items2, location=(283, 8))
style_legend(leg2, 3, 12, 134)
p2.add_layout(leg2)
add_title(p2, 11, 364)

layout = row(lab1, p1, lab2, p2)
open("out.html", "w").write(file_html(layout, INLINE))
